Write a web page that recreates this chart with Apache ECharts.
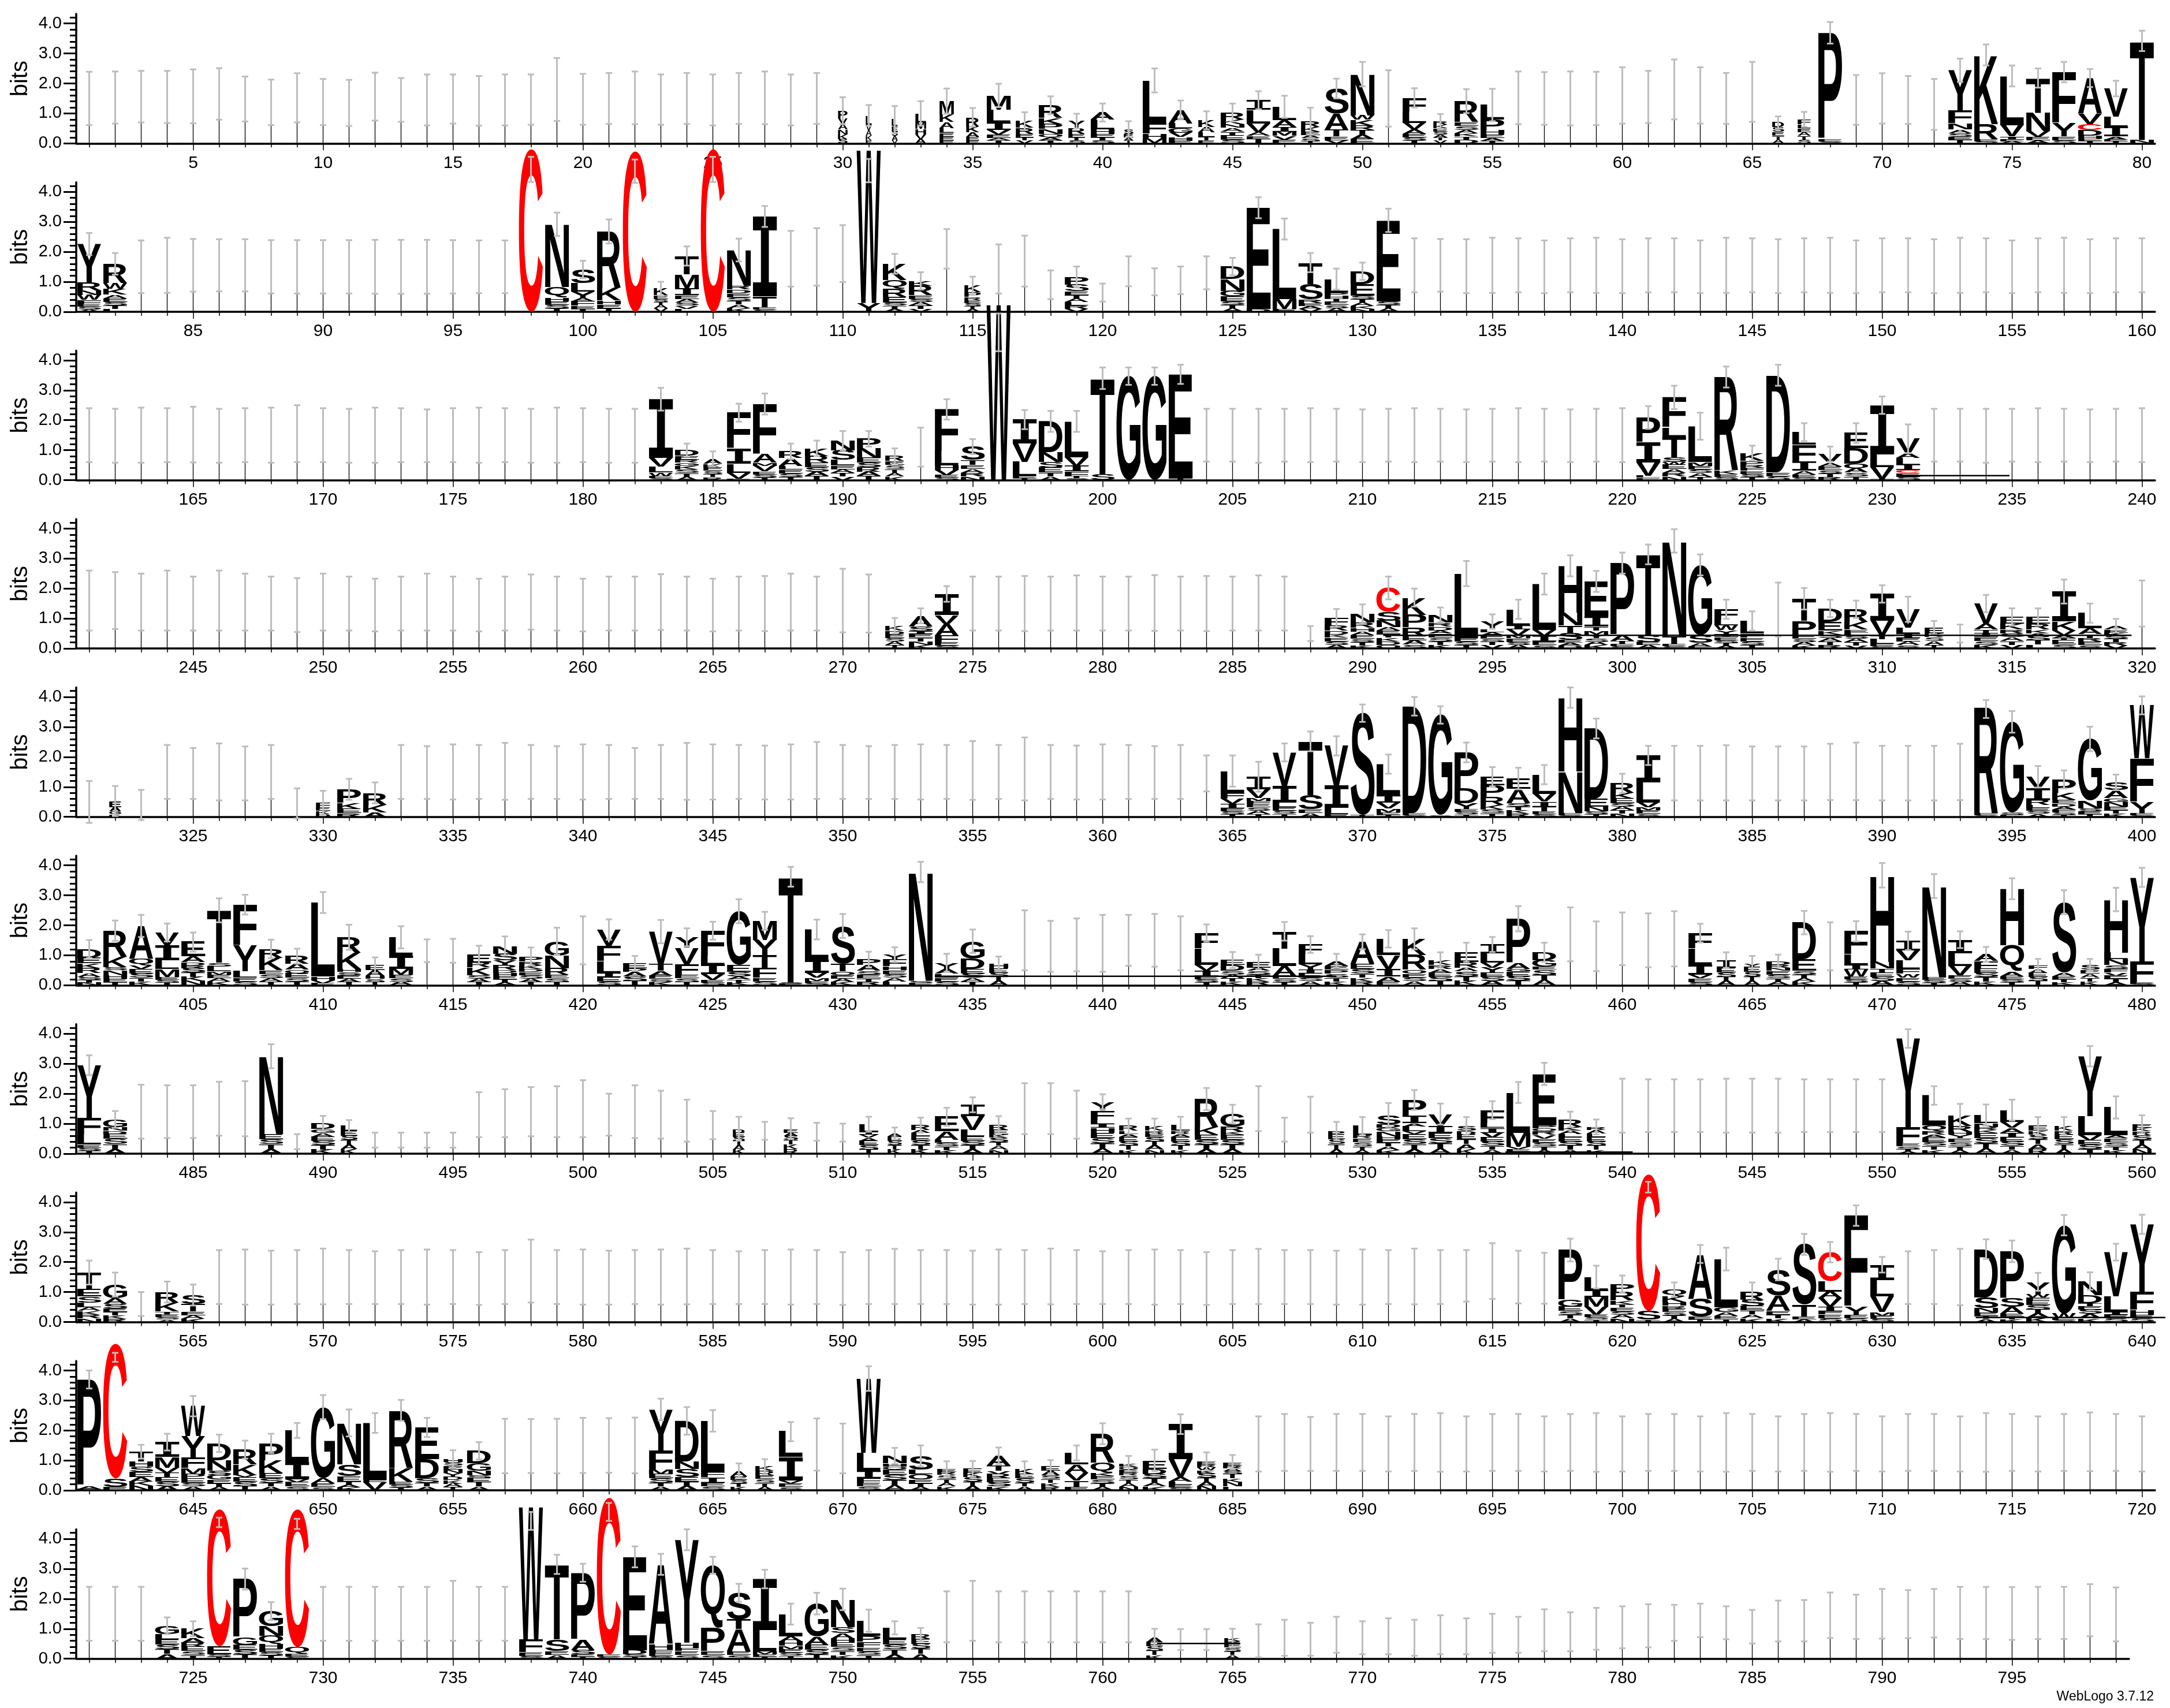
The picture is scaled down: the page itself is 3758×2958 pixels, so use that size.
<!DOCTYPE html>
<html><head><meta charset="utf-8">
<script src="https://cdn.jsdelivr.net/npm/echarts@6/dist/echarts.min.js"></script>
<style>html,body{margin:0;padding:0;background:#fff}#c{width:3758px;height:2958px}</style>
</head><body><div id="c"></div><script>
// Token: letters top->bottom with bits, ":" error half (or "center,half"), "@" stack width fraction; "|h" = thin gap-scaled stack
const row1=["|1.5:.89","|1.53:.87","|1.56:.86","|1.55:.87","|1.57:.9","|1.65:.86","|1.48:.75","|1.37:.76","|1.52:.82","|1.38:.77",
"|1.35:.77","|1.56:.8","|1.45:.73","|1.45:.85","|1.48:.82","|1.42:.83","|1.45:.85","|1.46:.84","|1.8:1.05","|1.47:.85",
"|1.5:.85","|1.52:.88","|1.46:.84","|1.5:.85","|1.45:.85","|1.5:.85","|1.52:.88","|1.45:.85","|1.5:.85","P.25V.2A.18N.16K.15S.15:.45@.4",
"L.3V.2A.18K.15E.1:.35@.25","L.22E.18S.15A.15V.1:.45@.25","L.3M.22H.18V.15A.15:.41@.45","M.45K.25A.2L.16E.13E.12E.1:.42@.6","R.3K.2A.15E.12E.1:.31@.55","M.48L.42I.26V.14E.12A.08T.1:.39","K.22R.2E.12T.1V.1:.3@.75","R.41K.21P.17N.16Q.12A.1T.1:.3","Y.22R.2E.12T.1S.1:.25@.7","A.24L.32H.15E.12T.1S.1:.3",
"S.16E.12A.1T.1:.26@.4","L1.43F.35H.18M.14:.4","A.45L.16G.16V.14H.12E.09:.31","K.22A.18L.15T.12E.1:.3@.7","R.23K.15N.13A.13T.13E.14S.12:.3","I.32L.45V.29A.13E.1T.15:.3","L.45A.22I.15M.15V.13E.12:.37","R.2K.15E.12A.1S.1T.07:.45@.8","S.83A.55T.22E.13V.1:.33","N1.38W.14K.2R.15T.15A.15E.14:.41",
"|1.5:.94","F.46L.38V.22A.14E.12S.1T.1:.32","R.12K.12E.1S.1A.1T.1V.1:.24@.6","R.7E.13S.13A.12K.1T.1D.13:.4","L.48P.35H.15E.12A.1T.08:.54","|1.52:.88","|1.5:.88","|1.5:.9","|1.5:.89","|1.6:.94",
"|1.55:.87","|1.8:1.0","|1.6:.94","|1.5:.85","|1.72:1.0","D.16S.15E.13T.13A.13:.2@.5","F.16L.13E.13A.13T.13S.12:.25@.55","P3.55E.08S.06:.36","|1.45:.83","|1.5:.84",
"|1.45:.8","|1.3:.85","Y1.35F.42N.2A.13S.12E.1T.12:.39","K2.3R.5E.08S.07:.35","L1.64V.38I.1E.07A.06:.35","T1.15N.62V.2E.11A.1:.32","F1.7Y.45E.12S.11:.34","A1.19V.35C.19D.19H.1E.08T.08:.3","V.93L.35I.32A.1E.07T.06:.26","T3.3N.12:.34"];
const row2=["Y1.27R.27N.16W.16F.13E.1S.09A.08:.37","R.64W.19K.19A.13E.12S.12T.11L.1:.36","|1.5:.88","|1.55:.92","|1.55:.88","|1.55:.87","|1.55:.87","|1.5:.89","|1.5:.89","|1.5:.89",
"|1.5:.89","|1.5:.9","|1.5:.9","|1.5:.9","|1.5:.89","|1.5:.88","|1.5:.88","C5.43:4.75,.42","N2.09Q.35H.13E.12S.12T.11:.39","S.45L.29Y.22A.11F.14E.1T.1:.29",
"R1.88K.42H.13E.13T.12:.4","C5.36:4.69,.39","K.22E.12S.11T.1A.11V.11:.23@.6","T.61M.48I.22E.13A.11S.11V.1L.1:.32","C5.43:4.75,.42","N1.19R.13D.13E.13S.12T.12A.12K.12:.38","I2.67T.35E.08S.08:.35","|1.77:.93","|1.83:.96","|1.94:.95",
"W5.1Y.29:4.71,.39","K.55Q.29R.26E.19S.11T.1A.1:.33","K.16R.32E.12S.11A.11T.11V.1:.29","|2.1:.66","K.22P.16R.1E.1S.1T.1A.09:.3@.7","|1.43:.82","|1.69:.85","|.9:.48","P.26S.22E.12T.12A.12L.11R.11V.1:.35","|.64:.3",
"|1.35:.5","|1.0:.45","|1.05:.46","|1.3:.55","D.42N.39G.19E.16S.12T.12A.11:.29","E3.37D.1:.35","L2.34M.32E.1:.35","T.71S.51R.13E.1A.1V.09:.32","L.45P.1H.1T.1E.12S.11A.11:.35","D.42E.39S.12T.11A.11K.1N.1:.29",
"E2.7S.12T.12A.11:.39","|1.55:.9","|1.55:.88","|1.52:.9","|1.55:.92","|1.55:.9","|1.5:.88","|1.55:.9","|1.55:.92","|1.52:.9",
"|1.55:.9","|1.55:.9","|1.5:.88","|1.55:.92","|1.55:.9","|1.52:.9","|1.55:.9","|1.55:.92","|1.5:.88","|1.55:.9",
"|1.55:.9","|1.52:.9","|1.55:.92","|1.55:.9","|1.5:.88","|1.55:.9","|1.55:.92","|1.52:.9","|1.55:.9","|1.55:.9"];
const row3=["|1.5:.9","|1.48:.9","|1.5:.92","|1.5:.9","|1.52:.93","|1.48:.9","|1.5:.9","|1.5:.92","|1.55:.95","|1.5:.9",
"|1.48:.9","|1.5:.92","|1.5:.9","|1.48:.88","|1.5:.9","|1.5:.92","|1.5:.9","|1.48:.9","|1.5:.92","|1.5:.9",
"|1.48:.9","|1.48:.9","I1.96V.29L.19W.13E.07S.06:.38","D.19E.13R.1G.1K.13S.12T.12A.11:.22","A.16K.13E.11S.11T.1R.1:.25@.8","F1.2I.5L.3V.2E.05:.3","F1.67A.29M.1V.19E.1S.1T.09:.35","R.22A.26L.13E.12S.12T.11:.26","K.26R.22E.15S.15A.14T.14:.26","N.32S.32L.19E.13A.12T.12V.12:.32",
"P.32N.32E.16S.15R.15A.14T.14:.26","R.16E.13S.13T.13A.13K.12:.26@.8","|1.1:.65","F1.39L.48H.16V.16E.09S.08:.34","S.45T.16E.13A.13R.13N.12:.25","W5.85:4.93,.63","I.8V.61L.48E.07T.06:.32","D1.03N.32S.19E.16T.13A.13:.35","L1.19V.29I.19F.16T.07S.06:.35","T3.2S.2:.36",
"G3.47:.29","G3.47:.29","E3.47T.06:.32","|1.5:.88","|1.5:.88","|1.48:.9","|1.5:.88","|1.5:.9","|1.5:.88","|1.48:.88",
"|1.5:.88","|1.5:.9","|1.5:.88","|1.48:.88","|1.5:.88","|1.5:.9","|1.5:.88","|1.48:.88","|1.5:.88","|1.5:.9",
"P.83I.67V.45L.06E.08:.38","F1.0L.3T.7S.15W.1E.14A.13R.12N.12:.39","L1.19M.13E.13S.12A.12T.11:.45","R3.11K.13E.1S.1:.35","K.26P.13R.1F.1E.1S.1T.11:.25","D3.24E.13S.13:.35","L.42F.58I.29A.13E.1S.08:.3","V.29A.13E.12S.11T.11R.11:.25","E.51D.51O.15A.14S.13T.13:.33","I1.64L.42V.39T.05:.29",
"V.48A.16L.22I.19C.1E.12S.11:.48","|1.5:.88","|1.5:.88","|1.48:.9","|1.5:.88","|1.5:.9","|1.5:.88","|1.48:.88","|1.5:.88","|1.5:.9"];
const row4=["|1.6:1.0","|1.6:.95","|1.55:.95","|1.6:1.0","|1.5:.9","|1.6:1.0","|1.55:.95","|1.5:.9","|1.45:.9","|1.55:.95",
"|1.5:.9","|1.45:.88","|1.5:.9","|1.55:.95","|1.5:.9","|1.45:.88","|1.5:.9","|1.55:.92","|1.5:.9","|1.45:.88",
"|1.5:.9","|1.5:.9","|1.55:.93","|1.5:.9","|1.45:.88","|1.5:.9","|1.5:.92","|1.55:.95","|1.5:.9","|1.6:1.06",
"|1.5:.97","K.16D.13E.12S.12A.12T.11:.26@.8","A.35S.16I.1E.12T.12N.12K.12:.25","I.71V.29A.39F.22E.11S.1:.26","|1.5:.9","|1.5:.9","|1.5:.92","|1.5:.9","|1.52:.92","|1.5:.9",
"|1.5:.9","|1.52:.93","|1.5:.9","|1.5:.92","|1.5:.9","|1.52:.92","|1.5:.9","|.5:.25","F.26R.16D.13K.1E.13S.12A.12:.3","N.29R.16H.13A.13E.12S.11T.11K.1:.32",
"C.8S.29N.22A.11E.12T.12K.12D.12Q.12:.38","K.58P.42R.29E.14A.14S.13:.3","N.26R.13D.13A.1E.13S.13T.12K.12:.25","L2.15E.12S.12T.11:.42","Y.26L.1A.1E.11S.11T.11V.11:.24","L.55I.13V.19M.1E.12S.11A.11:.32","L1.54V.19I.19E.12S.11:.35","H1.57N.42T.26S.22E.1A.1D.09:.35","E1.16I.35T.13M.13Y.13S.12A.11K.11:.35","P2.41A.19T.1E.08S.07:.35",
"T2.7S.22E.11A.11:.33","N3.18T.26E.08S.07:.39","G2.34S.26A.13E.06:.35","F.35L.19W.16Y.13I.1E.1S.1T.09A.09:.32","L.42F.13E.13S.12T.12:.32","|1.3:.9","T.74P.48E.12S.11A.11K.1:.36","D.45E.29K.13S.12A.12T.12R.11:.29","R.42K.26E.1L.1S.11A.11T.11V.1:.29","I.9V.48T.13L.16E.08S.07:.29",
"V.61L.19I.16E.12A.12S.11:.42","E.19K.13S.13A.13T.12:.22@.8","|.5:.3","V.67A.19T.13I.13E.13S.13K.12:.29","E.22K.19R.13S.13A.13T.13V.12:.29","E.22R.19K.13A.1S.14T.14L.13:.29","I1.0K.3V.15A.1T.08E.14S.13:.4","L.51A.19T.13R.12E.12S.11:.32","A.13E.1K.1S.11T.11R.11V.1:.23","|1.5:.77"];
const row5=["|.5:.7","E.2A.15G.1K.08:.5@.5","|.4:.5","|1.5:.9","|1.45:.85","|1.5:.95","|1.45:.9","|1.5:.9","|.45:.5","F.15E.12K.1D.1:.4@.6",
"P.45K.2E.15R.12:.35","R.4K.25A.15:.35","|1.5:.9","|1.48:.88","|1.5:.92","|1.5:.9","|1.52:.95","|1.5:.9","|1.48:.88","|1.5:.92",
"|1.5:.9","|1.45:.85","|1.5:.9","|1.52:.95","|1.5:.92","|1.5:.9","|1.48:.9","|1.5:.92","|1.55:.95","|1.5:.9",
"|1.48:.88","|1.5:.9","|1.5:.92","|1.5:.9","|1.55:.98","|1.5:.9","|1.6:1.05","|1.5:.9","|1.48:.9","|1.5:.92",
"|1.5:.9","|1.48:.88","|1.5:.9","|1.45:.6","L.74F.19V.16I.16E.1S.09T.09:.52","I.42V.29M.1F.1E.11S.11A.11T.1:.5","V1.12I.55L.16E.11S.11T.1:.3","T1.79S.48E.13A.12:.33","V1.32I.74L.22E.09:.32","S3.4T.06:.29",
"L1.03I.26V.19M.13E.08T.07:.32","D3.56E.07S.06:.31","G3.34S.06:.29","P1.22D.48Y.19E.09S.09T.08:.33","E.29P.39R.26K.16S.12T.12:.32","E.35A.48S.12T.11K.11R.11:.36","L.64V.26I.16T.16E.1S.09:.32","H2.47N1.38E.07S.06:.34","D2.34E.26N.16S.1T.09:.33","R.32K.19E.16S.12A.11T.11N.11:.32",
"I.9L.67V.16M.1E.11S.11:.32","|1.46:.91","|1.46:.91","|1.47:.92","|1.45:.9","|1.45:.9","|1.45:.9","|1.5:.94","|1.52:.96","|1.46:.91",
"|1.46:.91","|1.46:.91","|1.5:.94","R3.53E.06S.06:3.6,.3","G3.02S.08E.07:.36","V.39I.39R.16L.1E.1S.1A.1:.36","P.45K.22E.13D.1A.1F.1S.08T.07:.3","G2.06N.26S.1E.09T.09:.41","S.26A.26G.13N.16E.12T.11K.11:.26","W1.77F1.45Y.39E.06S.05:.3"];
const row6=["D.29E.19K.16R.16A.13S.1T.09N.09:.3","R.87K.35S.1N.16H.13E.11T.1:.34","A1.09Q.22V.13E.14S.14T.13K.13:.37","V.42I.51L.29M.26E.1S.09T.09:.3","E.48A.19D.1R.1S.15T.14K.14N.14:.32","T1.75S.13L.16M.1E.12A.12K.12:.4","F1.35Y.87L.22E.13S.12:.33","R.29K.42E.13S.13A.12T.12:.31","R.26A.19Q.13E.14S.13T.12:.25","L2.47H.13V.1E.06:.35",
"R.51K.55H.1S.1E.12A.11T.11:.42","E.16A.19H.1S.11T.11:.26@.8","L.61I.45M.19E.12S.12A.11:.37","|1.15:.38","|1.15:.4","E.26R.16K.26S.12A.11T.11:.3","N.26S.22Y.16R.16D.1H.1E.11T.1A.1:.32","P.16R.13K.13D.1E.1S.12A.11T.11:.3","G.48N.42R.22E.12S.12T.11:.45","|1.5:.8",
"V.55F.51L.39I.13E.15S.13:.34","E.16P.13A.15S.15T.14:.25","V1.09T.22A.16E.11S.11K.1:.39","Y.35V.55F.35E.12S.12T.11:.3","F.84L.29I.32V.19E.09S.09:.3","G1.8E.22S.16A.1T.1K.09:.4","M.64Y.51T.42F.32E.13S.13:.3","T3.53S.05E.04:.33","L1.0I.45V.16M.1E.08S.07:.33","S1.25T.26O.13E.12A.11K.11:.4",
"P.19A.19S.13E.12T.12R.11:.26","Y.16F.22H.13E.13S.13A.13L.12:.25","N3.63S.08E.07:.34","Y.2A.16L.13E.13S.13:.3","G.58D.35E.14S.14A.13T.13:.39","H.16E.15S.14T.14A.14:.23@.8","|1.5:1.0","|1.3:.85","|1.35:.88","|1.4:.95",
"|1.5:.85","|1.5:.88","|1.4:.9","F.51L.55V.19I.19E.1S.1T.1:.29","E.16D.19S.13A.12T.12K.12:.27","E.19A.1S.13T.12K.12R.12:.24","T.58L.58A.32E.11S.11T.1:.31","F.32L.35Y.16I.13E.14S.13A.13:.28","A.16E.13P.13S.13T.13K.13:.24","A.74E.16S.16T.13K.13R.13:.25",
"L.55V.45I.26A.16E.13:.29","K.55R.48O.13E.13S.13A.13:.35","K.16R.13A.13E.14S.14T.14:.26","E.32R.19A.13S.16T.15K.15:.32","I.29L.32V.16Y.16E.15S.14A.14:.25","P1.48A.19G.1E.15S.15T.15:.42","D.26G.22E.1S.18T.17A.17:.32","|1.7:.9","|1.3:.83","|1.55:.88",
"|1.5:.9","|1.55:.92","F.51L.55I.32V.13E.12S.11:.31","I.26E.15S.15T.14A.14:.26@.8","Y.13E.16S.15T.15A.15:.24@.7","D.13R.1N.1E.13S.12T.12A.11:.21","D1.22E.39S.12T.12A.12K.12:.39","|1.3:.8","F.77L.35I.16W.22E.1S.1T.1:.34","H2.89N.22T.13E.15S.14A.14:.41",
"I.32V.32L.29F.16W.13E.13S.13:.31","N3.05E.09S.09T.08:.4","I.45L.42V.32E.11S.11A.11:.28","A.22F.26E.14S.14T.14K.13:.25","H1.89Q.87A.16E.1S.1T.1:.35","F.13A.13E.14S.14T.14:.2@.8","S2.34A.13E.1T.1K.1:.4","S.16E.13A.13T.13K.13:.2@.8","H1.77L.22N.19S.13F.13V.1E.11T.11A.1:.39","Y2.8F.71E.05S.04:.32"];
const row7=["Y1.75F.55L.35E.1S.1T.1:.33","G.25N.13D.1E.17S.17T.16A.16:.28","|1.4:.9","|1.4:.88","|1.4:.88","|1.5:.9","|1.5:.92","N2.6E.17S.16T.16A.16:.4","|.4:.25","D.19G.13A.13E.14S.14T.14K.14:.25",
"L.16E.16S.15T.15A.15K.15:.2@.7","|.45:.25","|.45:.25","|.45:.25","|.45:.25","|1.3:.75","|1.35:.8","|1.4:.82","|1.4:.85","|1.5:.95",
"|1.3:.7","|1.4:.88","|1.3:.8","|1.1:.7","|.95:.47","D.13E.14S.14T.14A.14K.14:.4@.5","|.76:.3","E.13A.1S.15T.15K.15R.15:.35@.6","|.73:.3","|.7:.3",
"L.25I.1V.1A.1E.15S.14T.14:.25@.8","A.1E.15S.14T.14K.14:.2@.6","R.16A.1L.1E.15S.15T.15K.14:.25@.8","E.48A.28L.1S.13T.12K.12:.3","I.37V.47L.22E.15S.14T.14A.14:.25","R.16E.16K.1S.14T.13A.13N.13:.3@.8","|1.5:.85","|1.5:.85","|1.3:.8","Y.28F.31L.16I.12H.16E.18S.18T.17A.17:.25",
"R.16L.1A.1E.15S.14T.14K.13:.25@.8","K.16R.1E.1S.15T.14A.14N.13:.25@.8","L.19R.1A.1E.15S.14T.14K.13:.28@.8","R.93K.25E.17S.16T.16A.15:.37","G.43R.16K.1E.16S.16T.16A.15:.31","|1.5:.75","|.8:.4","|1.3:.6","P.12E.16S.16T.16A.16:.3@.7","L.31R.1E.13S.13T.13A.12:.3@.8",
"S.31D.12G.12N.16H.1E.12T.12A.12K.12:.4","P.53I.25A.1L.16V.1E.17S.16T.16A.16:.33","V.4I.22E.18S.18T.17A.17:.35","S.16D.12E.16T.16A.16K.16:.3@.8","F.43L.16I.16V.16E.14S.14T.13A.13:.3","L1.34M.47V.08E.08T.07:.35","E1.71P.1O.1R.12V.13E.13S.13T.12A.12:.37","R.25K.12A.12L.1E.14S.14T.14A.13:.26","R.1A.12L.12E.14S.14T.14K.13:.25@.8","|1.6:.9",
"|1.6:.88","|1.6:.88","|1.6:.88","|1.6:.9","|1.6:.9","|1.6:.9","|1.6:.88","|1.6:.88","|1.6:.88","|1.6:.88",
"Y2.95F.56E.09S.08T.08A.08:.31","L1.0Q.19R.12A.1E.14S.13T.13K.13:.31","K.34R.19H.1Y.12E.13S.13T.13A.12:.4","L.28N.12R.1K.1E.18S.17T.17A.17:.35","L.4V.19A.16I.16E.14S.14T.13A.13:.35","E.16K.12S.16T.16A.16R.16:.3@.8","K.16R.12E.16S.16T.16A.16:.3@.8","Y1.99L.65V.16E.15S.15T.15:.34","L.93A.1E.13S.13T.13K.12:.37","E.12K.12R.12S.16T.16A.15N.15:.3@.8"];
const row8=["T.55E.25S.2L.15A.13K.13R.12N.12:.4","G.45A.2S.15E.12T.11K.11R.11:.4","|.6:.4","R.35K.3T.1E.09S.08A.08:.35","S.3T.25E.12A.12K.11:.35","|1.5:.9","|1.5:.92","|1.48:.9","|1.5:.9","|1.52:.93",
"|1.5:.9","|1.48:.88","|1.5:.9","|1.5:.92","|1.5:.9","|1.45:.88","|1.5:.9","|1.7:1.05","|1.5:.9","|1.5:.92",
"|1.48:.9","|1.5:.9","|1.5:.92","|1.52:.93","|1.5:.9","|1.48:.88","|1.5:.9","|1.5:.92","|1.5:.9","|1.45:.88",
"|1.5:.9","|1.52:.92","|1.5:.9","|1.5:.9","|1.48:.9","|1.5:.92","|1.5:.9","|1.52:.93","|1.5:.9","|1.48:.88",
"|1.5:.9","|1.5:.92","|1.5:.9","|1.45:.88","|1.5:.9","|1.52:.92","|1.5:.9","|1.5:.9","|1.48:.9","|1.5:.92",
"|1.5:.9","|1.52:.93","|1.5:.9","|1.54:.86","|1.7:.93","|1.5:.88","|1.46:.85","P1.67G.22E.14S.13T.12A.12:.38","L.45I.22M.32V.26E.09S.08T.08:.38","P.26R.29K.13T.1E.13S.12A.12N.12:.28",
"C4.56S.29T.08:4.5,.18","Q.22K.19H.13R.1E.11S.11T.11A.11:.24","A1.48S.61E.09T.09:.3","L1.61G.16A.13E.1T.1:.38","R.26S.22E.14T.13A.13K.13:.31","S.87A.51E.13T.12K.12:.36","S2.02T.39E.09A.09:.35","C.96L.35A.22V.29I.16F.1E.13S.12:.34","F3.05Y.26E.12S.12:.34","I.51L.55V.51M.13E.11S.1:.26",
"|1.48:.88","|1.5:.9","|1.5:.94","D1.61S.35N.16E.11T.1A.1:.33","P1.57S.29A.22E.1T.09K.09:.36","Y.4W.12F.1E.15S.15T.14A.14K.14:.3","G2.95W.16E.06S.06:.34","N.48D.26T.1E.12S.14A.14K.13:.29","V1.48L.51I.1E.12S.12:.28","Y2.25F.61H.16E.12S.12:.32"];
const row9=["P3.55A.1E.05:.3","C4.5S.28E.12:4.44,.15","T.32H.18S.18E.16A.15K.15N.15:.23","I.5M.35V.18T.14E.15S.15A.14:.28","W1.0Y.71F.35M.21P.14E.14S.13A.13:.34","D.57N.35S.14G.14E.13T.12A.12:.29","R.5K.35V.07E.15S.15T.14:.3","P.57K.42E.18S.14T.13A.13:.32","L1.06I.57V.1E.14S.13:.25","G2.37A.18E.12S.11:.4",
"N1.38S.39E.18T.1A.1K.1:.45","L1.9E.07V.28:.33","R1.91K.46E.1S.1T.1:.35","E1.06D.64S.14T.13A.13:.32","H.1S.12E.12N.12Y.12D.12K.12A.11T.11:.3@.8","D.42G.25N.14S.1E.14T.14A.13:.29","|1.48:.91","|1.48:.9","|1.48:.91","|1.5:.92",
"|1.5:.91","|1.5:.93","Y1.38F.64M.14E.14S.14T.13A.13:.36","D1.35N.25S.28E.15T.15A.14:.46","L1.7F.18I.18E.13S.13:.36","A.18E.12S.12T.12K.11:.25@.7","K.14R.14E.13S.13T.13A.12:.25@.8","L.85I.78V.1E.12S.11:.32","|1.53:.87","|1.4:.83",
"W2.48L.6I.25F.14E.13S.13:.41","N.25H.1O.1E.18S.18T.17A.17:.27","S.46L.14O.18E.13T.12A.12:.35","E.1R.1S.13T.13A.13K.13:.25@.8","E.14K.14S.15T.15A.14:.26@.8","A.32T.18V.1R.14E.14S.14K.13:.28","K.18E.14S.14T.13A.13:.25@.8","E.14A.14S.13T.13K.13R.12:.22@.8","L.39A.28V.25T.21E.12:.25","R.96Q.35K.1E.12S.12T.12A.12:.35",
"K.1O.1E.1R.1S.13T.13A.12N.12:.25@.8","E.28D.18S.14T.14A.13K.13:.36","I1.17V.6A.14L.1E.1S.1:.33","E.1R.1W.1K.1S.15T.14A.14N.14:.3@.8","E.1R.1A.1S.1T.14K.13N.14L.13:.24@.8","|1.55:.92","|1.6:.95","|1.55:.9","|1.6:.95","|1.6:.95",
"|1.55:.92","|1.6:.95","|1.6:.98","|1.55:.92","|1.6:.95","|1.6:.95","|1.55:.92","|1.6:.95","|1.6:.98","|1.55:.92",
"|1.6:.95","|1.6:.95","|1.55:.92","|1.6:.98","|1.6:.95","|1.55:.92","|1.6:.95","|1.6:.98","|1.6:.95","|1.55:.92",
"|1.6:.95","|1.6:.95","|1.55:.92","|1.6:.98","|1.6:.95","|1.55:.92","|1.6:.95","|1.62:.98","|1.6:.95","|1.55:.92"];
const row10=["|1.5:.9","|1.5:.9","|1.5:.9","G.28L.18E.16S.16T.16A.16:.28","K.32A.14R.14E.14S.13T.13:.25","C4.57E.28S.07T.07:4.55,.16","P1.95G.25E.16S.15T.15:.35","G.5N.32Q.28H.14E.12S.12T.11:.3","C4.6Q.21E.1S.08:4.5,.17","|1.5:.9",
"|1.5:.9","|1.5:.9","|1.5:.9","|1.5:.9","|1.6:1.0","|1.5:.9","|1.5:.9","W4.43F.42E.11S.1:4.6,.3","T2.51S.39E.13A.12:.32","P2.23A.35S.15E.07T.07:.3",
"C5.24E.07S.07:4.9,.3","E3.12D.14S.07T.07:.35","A2.66H.18F.1E.11S.1:.35","Y3.43H.18F.1E.13S.13:.35","Q2.09P.78E.13S.12:.28","S.89T.32A.74E.13S.12:.3","I1.7L.71M.1E.08T.07:.31","L.74A.18H.14M.1E.12S.11T.1:.35","G1.1A.28E.16S.15T.15:.36","N.92S.21A.18H.14E.14S.13T.13K.13:.36",
"L.5P.21F.18E.13S.13T.12:.37","L.39E.17S.16T.16A.15:.22","R.14E.17S.17T.17A.16:.22@.8","|1.4:.85","|1.6:1.0","|1.4:.85","|1.4:.85","|1.4:.85","|1.4:.85","|1.4:.85",
"|1.4:.85","A.14E.15S.14T.14K.13:.3@.7","|.64:.35","|.64:.35","K.1R.1E.13S.13T.12A.12:.3@.7","|.6:.55","|.7:.6","|.65:.55","|.8:.6","|.7:.55",
"|.75:.6","|.7:.6","|.8:.65","|.75:.6","|.85:.65","|.8:.6","|.95:.7","|.9:.65","|1.0:.7","|1.05:.7",
"|1.1:.72","|1.2:.6","|1.28:.56","|1.2:.55","|1.07:.56","|1.26:.68","|1.27:.69","|1.45:.76","|1.4:.74","|1.5:.83",
"|1.49:.8","|1.52:.81","|1.53:.87","|1.53:.87","|1.51:.88","|1.53:.87","|1.53:.87","|1.62:.87","|1.48:.9"];
const rowFirst=[1,81,161,241,321,401,481,561,641,721];
const yTickValues=[0,1,2,3,4];
const yTickLabels=["0.0","1.0","2.0","3.0","4.0"];
const yMinorValues=[0,0.2,0.4,0.6,0.8,1,1.2,1.4,1.6,1.8,2,2.2,2.4,2.6,2.8,3,3.2,3.4,3.6,3.8,4,4.2];
const yMax=4.32;
// horizontal stray strokes: [fromPos, toPos, bits]
const hLines=[[230.6,234.9,0.15],[290.8,319.6,0.44],[433.6,449,0.3],[535.5,540.4,0.05],[633.6,640.9,0.15],[762.1,765.3,0.51]];

const ROWS=[row1,row2,row3,row4,row5,row6,row7,row8,row9,row10];
ROWS.forEach((r,i)=>{const need=i<9?80:79; if(r.length!==need) throw new Error('row '+(i+1)+' has '+r.length);});

function parseTok(t){
  let w=1; const at=t.indexOf('@'); if(at>=0){w=parseFloat(t.slice(at+1)); t=t.slice(0,at);}
  const ci=t.indexOf(':'); const stack=t.slice(0,ci); const err=t.slice(ci+1).split(',').map(Number);
  const col={w,letters:[],thin:false,h:0};
  if(stack[0]==='|'){col.thin=true; col.h=parseFloat(stack.slice(1));}
  else{const re=/([A-Z])(\d*\.?\d+)/g; let m; while((m=re.exec(stack))){const v=parseFloat(m[2]); col.letters.push({ch:m[1],h:v}); col.h+=v;}}
  if(err.length>1){col.c=err[0]; col.e=err[1];} else {col.c=col.h; col.e=err[0];}
  return col;
}

const mctx=document.createElement('canvas').getContext('2d');
const mcache={};
function metric(ch){
  if(mcache[ch]) return mcache[ch];
  const font = ch==='I' ? 'bold 100px "DejaVu Sans Mono"' : 'bold 100px "Liberation Sans"';
  mctx.font=font; mctx.textBaseline='middle'; mctx.textAlign='left';
  const m=mctx.measureText(ch);
  return mcache[ch]={font,L:m.actualBoundingBoxLeft,R:m.actualBoundingBoxRight,A:m.actualBoundingBoxAscent,D:m.actualBoundingBoxDescent};
}
function glyph(ch,x,y,w,h){
  const m=metric(ch); const sx=w/(m.L+m.R), sy=h/(m.A+m.D);
  return {type:'text',x:x+m.L*sx,y:y+m.A*sy,scaleX:sx,scaleY:sy,silent:true,
    style:{text:ch,font:m.font,fill:ch==='C'?'#ff0000':'#000000',align:'left',verticalAlign:'middle'}};
}
function makeRender(cols){
  return function(params,api){
    const c=cols[params.dataIndex];
    const p0=api.coord([api.value(0),0]);
    const unit=api.size([0,1])[1];
    const colW=api.size([1,0])[0];
    const kids=[];
    if(c.thin){
      kids.push({type:'line',shape:{x1:p0[0],y1:p0[1],x2:p0[0],y2:p0[1]-c.h*unit},style:{stroke:'#000',lineWidth:1.3}});
    } else {
      const lw=colW*0.93*c.w; let yb=p0[1];
      for(let i=c.letters.length-1;i>=0;i--){const L=c.letters[i]; const hh=L.h*unit; kids.push(glyph(L.ch,p0[0]-lw/2,yb-hh,lw,hh)); yb-=hh;}
    }
    const yT=p0[1]-(c.c+c.e)*unit, yB=p0[1]-(c.c-c.e)*unit;
    const gs={stroke:'#bdbdbd',lineWidth:3};
    kids.push({type:'line',shape:{x1:p0[0],y1:yT,x2:p0[0],y2:yB},style:gs});
    kids.push({type:'line',shape:{x1:p0[0]-5.5,y1:yT,x2:p0[0]+5.5,y2:yT},style:gs});
    kids.push({type:'line',shape:{x1:p0[0]-5.5,y1:yB,x2:p0[0]+5.5,y2:yB},style:gs});
    return {type:'group',children:kids};
  };
}

const posW=45, gLeft=132, top0=24.1, rowStep=291.6, gridH=224.2;
const FONT='"Liberation Sans", Arial, sans-serif';
const grids=[],xAxes=[],yAxes=[],series=[];
ROWS.forEach((row,r)=>{
  const first=rowFirst[r], last=first+row.length-1;
  const cols=row.map(parseTok);
  grids.push({left:gLeft,top:top0+r*rowStep,width:row.length*posW,height:gridH,containLabel:false,outerBoundsMode:'none'});
  const allPos=[]; for(let p=first;p<=last;p++) allPos.push(p);
  const majors=allPos.filter(p=>p%5===0);
  const xr={min:first-0.5,max:last+0.5};
  xAxes.push({type:'value',gridIndex:r,min:xr.min,max:xr.max,position:'bottom',
    axisLine:{show:true,onZero:false,lineStyle:{color:'#000',width:3.5}},
    axisTick:{show:true,customValues:allPos,length:7,lineStyle:{color:'#000',width:1.5}},
    axisLabel:{show:false},splitLine:{show:false}});
  xAxes.push({type:'value',gridIndex:r,min:xr.min,max:xr.max,position:'bottom',
    axisLine:{show:false,onZero:false},
    axisTick:{show:true,customValues:majors,length:12,lineStyle:{color:'#000',width:1.5}},
    axisLabel:{show:true,customValues:majors,fontSize:30,fontFamily:FONT,color:'#000',margin:19},splitLine:{show:false}});
  yAxes.push({type:'value',gridIndex:r,min:0,max:yMax,position:'left',
    axisLine:{show:true,onZero:false,lineStyle:{color:'#000',width:3.5}},
    axisTick:{show:true,customValues:yMinorValues,length:11,lineStyle:{color:'#000',width:3}},
    axisLabel:{show:false},splitLine:{show:false}});
  yAxes.push({type:'value',gridIndex:r,min:0,max:yMax,position:'left',
    axisLine:{show:false,onZero:false},
    axisTick:{show:true,customValues:yTickValues,length:22,lineStyle:{color:'#000',width:3}},
    axisLabel:{show:true,customValues:yTickValues,formatter:v=>yTickLabels[yTickValues.indexOf(v)],fontSize:29,fontFamily:FONT,color:'#000',margin:25},
    name:'bits',nameLocation:'middle',nameGap:76,nameMoveOverlap:false,nameTextStyle:{fontSize:40,fontFamily:FONT,color:'#000'},
    splitLine:{show:false}});
  series.push({type:'custom',coordinateSystem:'cartesian2d',xAxisIndex:2*r,yAxisIndex:2*r,
    data:cols.map((c,i)=>[first+i,c.h]),renderItem:makeRender(cols),animation:false,silent:true,z:3});
  const hl=hLines.filter(h=>h[0]>=first-0.5&&h[0]<=last+0.5);
  if(hl.length){
    series.push({type:'custom',coordinateSystem:'cartesian2d',xAxisIndex:2*r,yAxisIndex:2*r,encode:{x:[0,1],y:2},
      data:hl,animation:false,silent:true,z:4,
      renderItem:(params,api)=>{const a=api.coord([api.value(0),api.value(2)]),b=api.coord([api.value(1),api.value(2)]);
        return {type:'line',shape:{x1:a[0],y1:a[1],x2:b[0],y2:b[1]},style:{stroke:'#000',lineWidth:2.5}};}});
  }
});

const chart=echarts.init(document.getElementById('c'),null,{renderer:'canvas',width:3758,height:2958});
chart.setOption({
  animation:false,backgroundColor:'#ffffff',textStyle:{fontFamily:FONT},
  grid:grids,xAxis:xAxes,yAxis:yAxes,series:series,
  graphic:[{type:'text',right:28,top:2927,style:{text:'WebLogo 3.7.12',font:'23px "Liberation Sans"',fill:'#000'}}]
});
</script></body></html>
